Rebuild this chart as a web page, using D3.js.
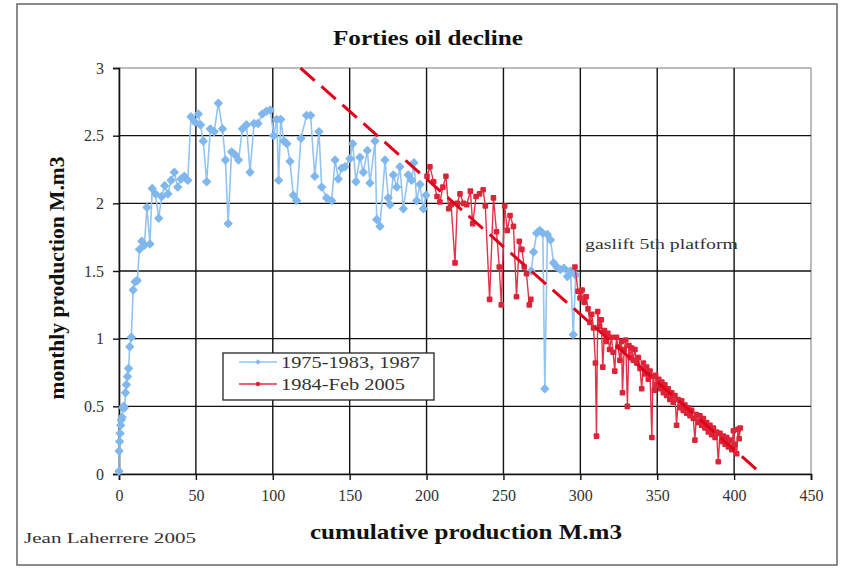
<!DOCTYPE html>
<html>
<head>
<meta charset="utf-8">
<script src="https://cdn.jsdelivr.net/npm/d3@7"></script>
<style>
  html, body { margin: 0; padding: 0; background: #fff; }
  svg { display: block; }
</style>
</head>
<body>
<svg id="chart" width="842" height="568"></svg>
<script>
// ---------------- DATA ----------------
const xTicks = [0, 50, 100, 150, 200, 250, 300, 350, 400, 450];
const yTicks = [0, 0.5, 1, 1.5, 2, 2.5, 3];
const yTickLabels = ["0", "0.5", "1", "1.5", "2", "2.5", "3"];

const seriesNames = ["1975-1983, 1987", "1984-Feb 2005"];

// [cumulative production, monthly production]
const blue1975 = [
  [0,0.02],[0.1,0.17],[0.4,0.24],[0.7,0.30],[1.1,0.36],[1.5,0.40],[2.0,0.42],[2.5,0.49],[3.0,0.50],[3.6,0.49],
  [4.2,0.60],[4.8,0.66],[5.5,0.72],[6.2,0.78],[7.0,0.94],[8.0,1.01],[9.2,1.36],[10.5,1.42],[11.9,1.43],[13.3,1.66],
  [14.8,1.72],[16.5,1.69],[18.2,1.97],[20.1,1.70],[21.6,2.11],[23.7,2.07],[25.8,1.89],[27.7,2.05],[29.7,2.13],[31.8,2.07],
  [33.9,2.17],[36.0,2.23],[38.2,2.12],[40.3,2.18],[42.5,2.20],[44.7,2.17],[46.8,2.64],[49.4,2.60],[51.6,2.66],[53.0,2.58],
  [54.8,2.46],[57.0,2.16],[59.4,2.55],[61.9,2.53],[64.6,2.74],[67.3,2.55],[69.2,2.32],[71.0,1.85],[73.2,2.38],[75.4,2.36],
  [77.7,2.32],[80.3,2.55],[82.9,2.58],[85.2,2.23],[87.8,2.59],[90.4,2.59],[93.2,2.66],[95.9,2.68],[98.4,2.69],[100.6,2.50],
  [102.6,2.62],[103.8,2.17],[105.2,2.62],[107.2,2.46],[109.2,2.44],[111.2,2.31],[113.3,2.06],[115.5,2.02],[118.3,2.48],[122.0,2.65],
  [124.6,2.65],[127.3,2.20],[130.0,2.53],[131.8,2.12],[135.0,2.04],[138.3,2.02],[140.5,2.32],[142.6,2.18],[144.8,2.26],[147.0,2.27],
  [150.2,2.33],[152.0,2.44],[154.1,2.16],[156.7,2.34],[158.9,2.23],[161.5,2.39],[163.2,2.15],[166.5,2.46],[167.6,1.88],[169.7,1.83],
  [173.0,2.32],[175.1,2.04],[176.2,1.99],[178.4,2.21],[180.6,2.12],[182.7,2.27],[184.9,1.96],[188.1,2.21],[190.3,2.17],[191.8,2.30],
  [193.6,2.02],[195.7,2.14],[197.9,1.96],[199.6,2.06]
];
const blue1987 = [
  [268.0,1.50],[269.6,1.64],[271.6,1.78],[273.6,1.80],[275.6,1.78],[276.9,0.63],[278.6,1.77],[280.6,1.73],
  [282.6,1.56],[284.7,1.53],[287.0,1.51],[289.4,1.52],[291.6,1.46],[293.6,1.50],[295.4,1.03],[297.0,1.47]
];
const red1984 = [
  [200.3,2.20],[202.2,2.27],[204.6,2.16],[206.8,2.05],[208.7,2.01],[210.6,2.12],[212.6,2.20],[214.4,1.96],[216.0,1.99],[218.5,1.56],
  [220.0,2.00],[221.7,2.07],[224.0,2.00],[226.1,1.99],[228.5,2.09],[230.0,1.85],[232.2,2.05],[234.5,2.07],[236.8,2.10],[238.2,1.98],
  [241.0,1.29],[243.5,2.04],[245.5,1.79],[247.3,1.53],[248.6,1.25],[250.8,1.98],[252.5,1.80],[254.3,1.91],[256.5,1.83],[258.5,1.31],
  [260.3,1.72],[262.0,1.66],[263.5,1.53],[265.0,1.48],[266.8,1.25],[267.8,1.29]
];
const red1988 = [
  [296.5,1.53],[298.5,1.35],[299.8,1.30],[301.2,1.36],[302.5,1.27],[303.8,1.31],[305.0,1.22],[306.2,1.12],[307.4,1.18],[308.6,1.08],
  [309.8,0.82],[310.5,0.28],[311.3,1.20],[312.5,1.09],[313.6,1.14],[314.6,0.79],[315.7,1.06],[316.8,0.98],[317.9,1.04],[319.0,0.92],
  [320.2,1.01],[321.3,0.90],[322.4,0.76],[323.5,1.01],[324.6,0.94],[325.7,0.84],[326.8,0.98],[327.4,0.60],[328.5,0.92],[329.5,0.99],
  [330.6,0.50],[331.6,0.95],[332.4,0.86],[333.4,0.93],[334.4,0.84],[335.5,0.92],[336.6,0.82],[337.7,0.86],[338.8,0.78],[339.9,0.63],
  [341.0,0.82],[342.0,0.74],[343.1,0.79],[344.2,0.70],[345.3,0.76],[346.5,0.27],[347.2,0.72],[348.1,0.62],[349.0,0.73],[350.0,0.66],
  [351.0,0.70],[352.0,0.63],[353.0,0.68],[354.0,0.60],[355.0,0.66],[356.1,0.58],[357.1,0.63],[358.2,0.55],[359.4,0.60],[360.4,0.53],
  [361.5,0.58],[362.6,0.36],[363.6,0.55],[364.7,0.49],[365.9,0.54],[366.9,0.47],[368.0,0.51],[369.1,0.45],[370.2,0.49],[371.3,0.43],
  [372.4,0.47],[373.5,0.41],[374.5,0.25],[375.5,0.44],[376.6,0.38],[377.8,0.43],[378.9,0.36],[380.0,0.41],[381.0,0.34],[382.1,0.38],
  [383.2,0.31],[384.3,0.36],[385.4,0.29],[386.5,0.34],[387.6,0.27],[388.6,0.31],[389.7,0.09],[390.8,0.30],[391.9,0.24],[393.0,0.28],
  [394.1,0.22],[395.2,0.27],[396.3,0.20],[397.4,0.25],[398.5,0.18],[399.5,0.32],[400.6,0.22],[401.7,0.15],[402.5,0.33],[403.3,0.26],
  [404.0,0.34]
];
const trendX = [118, 418];
const trendY = [3, 0];

// ---------------- DRAW ----------------
const svg = d3.select("#chart");
const serif = "'Liberation Serif', 'Times New Roman', serif";

const x = d3.scaleLinear().domain([0, 450]).range([119, 811]);
const y = d3.scaleLinear().domain([0, 3]).range([474, 68]);

const BLUE_LINE = "#93c4f2", BLUE_MARK = "#80b7ec";
const RED_LINE = "#e23248", RED_MARK = "#dc2438";

// outer frame
svg.append("rect").attr("x", 17).attr("y", 4).attr("width", 820).attr("height", 561)
  .attr("fill", "none").attr("stroke", "#666").attr("stroke-width", 1.5);

// plot frame (top, right light)
svg.append("rect").attr("x", x(0)).attr("y", y(3)).attr("width", x(450) - x(0)).attr("height", y(0) - y(3))
  .attr("fill", "none").attr("stroke", "#999").attr("stroke-width", 1.3);

// grid
const grid = svg.append("g");
grid.selectAll("line.v").data(xTicks.slice(1, -1)).join("line")
  .attr("x1", d => x(d)).attr("x2", d => x(d)).attr("y1", y(3)).attr("y2", y(0))
  .attr("stroke", "#111").attr("stroke-width", 1.4);
grid.selectAll("line.h").data(yTicks.slice(1, -1)).join("line")
  .attr("x1", x(0)).attr("x2", x(450)).attr("y1", d => y(d)).attr("y2", d => y(d))
  .attr("stroke", "#111").attr("stroke-width", 1.4);

// axes
const xAxis = svg.append("g").attr("transform", `translate(0,${y(0)})`)
  .call(d3.axisBottom(x).tickValues(xTicks).tickFormat(d3.format("d")).tickSize(6).tickPadding(10));
const yAxis = svg.append("g").attr("transform", `translate(${x(0)},0)`)
  .call(d3.axisLeft(y).tickValues(yTicks).tickFormat((d, i) => yTickLabels[i]).tickSize(6).tickPadding(9));
[xAxis, yAxis].forEach(g => {
  g.select(".domain").attr("stroke", "#111").attr("stroke-width", 1.6);
  g.selectAll(".tick line").attr("stroke", "#111").attr("stroke-width", 1.4);
  g.selectAll(".tick text").attr("font-family", serif).attr("font-size", 16).attr("fill", "#333");
});

// series
const line = d3.line().x(d => x(d[0])).y(d => y(d[1]));
const diamond = d3.symbol().type(d3.symbolDiamond2).size(34);

function drawBlue(data) {
  svg.append("path").datum(data).attr("d", line).attr("fill", "none")
    .attr("stroke", BLUE_LINE).attr("stroke-width", 1.6);
  svg.append("g").selectAll("path").data(data).join("path")
    .attr("d", diamond).attr("transform", d => `translate(${x(d[0])},${y(d[1])})`)
    .attr("fill", BLUE_MARK).attr("stroke", BLUE_MARK).attr("stroke-width", 1.6).attr("stroke-linejoin", "round");
}
function drawRed(data) {
  svg.append("path").datum(data).attr("d", line).attr("fill", "none")
    .attr("stroke", RED_LINE).attr("stroke-width", 1.4);
  svg.append("g").selectAll("rect").data(data).join("rect")
    .attr("x", d => x(d[0]) - 2.8).attr("y", d => y(d[1]) - 2.8)
    .attr("width", 5.6).attr("height", 5.6).attr("rx", 1).attr("fill", RED_MARK);
}
drawBlue(blue1975);
drawBlue(blue1987);
drawRed(red1984);
drawRed(red1988);

// trend line
svg.append("line")
  .attr("x1", x(trendX[0])).attr("y1", y(trendY[0]))
  .attr("x2", x(trendX[1])).attr("y2", y(trendY[1]))
  .attr("stroke", "#e0001c").attr("stroke-width", 3).attr("stroke-dasharray", "19,9");

// legend
const lg = svg.append("g");
lg.append("rect").attr("x", 223).attr("y", 353).attr("width", 211).attr("height", 47)
  .attr("fill", "#fff").attr("stroke", "#222").attr("stroke-width", 1.3);
[[BLUE_LINE, BLUE_MARK, "diamond", 362], [RED_LINE, RED_MARK, "circle", 384]].forEach((s, i) => {
  lg.append("line").attr("x1", 239).attr("x2", 277).attr("y1", s[3]).attr("y2", s[3])
    .attr("stroke", s[0]).attr("stroke-width", 1.4);
  if (s[2] === "diamond") {
    lg.append("path").attr("d", d3.symbol().type(d3.symbolDiamond2).size(18)())
      .attr("transform", `translate(258,${s[3]})`).attr("fill", s[1]);
  } else {
    lg.append("circle").attr("cx", 258).attr("cy", s[3]).attr("r", 2.3).attr("fill", s[1]);
  }
  lg.append("text").attr("x", 281).attr("y", s[3] + 5.5).text(seriesNames[i])
    .attr("font-family", serif).attr("font-size", 17).attr("fill", "#333")
    .attr("textLength", i === 0 ? 139 : 124).attr("lengthAdjust", "spacingAndGlyphs");
});

// texts
function txt(t, xx, yy, size, weight, len, anchor, rot) {
  const e = svg.append("text").text(t).attr("font-family", serif).attr("font-size", size)
    .attr("font-weight", weight).attr("fill", "#111").attr("text-anchor", anchor || "start")
    .attr("textLength", len).attr("lengthAdjust", "spacingAndGlyphs");
  if (rot) e.attr("transform", `translate(${xx},${yy}) rotate(${rot})`);
  else e.attr("x", xx).attr("y", yy);
  return e;
}
txt("Forties oil decline", 428, 45, 20, "bold", 190, "middle");
txt("monthly production M.m3", 64, 278, 20, "bold", 243, "middle", -90);
txt("cumulative production M.m3", 466, 539, 21, "bold", 312, "middle");
txt("Jean Laherrere 2005", 24, 543, 15, "normal", 172, "start").attr("fill", "#333");
txt("gaslift 5th platform", 585, 249, 15, "normal", 153, "start").attr("fill", "#333");
</script>
</body>
</html>
